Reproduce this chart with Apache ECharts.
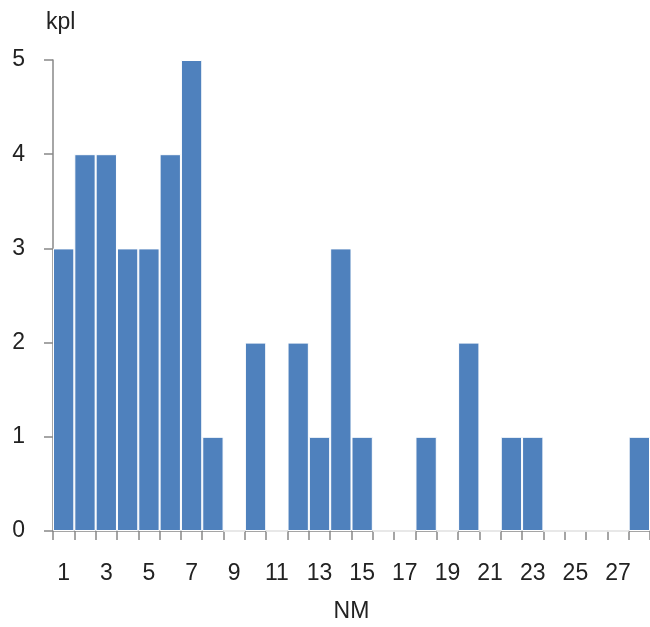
<!DOCTYPE html>
<html><head><meta charset="utf-8">
<script src="https://cdn.jsdelivr.net/npm/echarts@6/dist/echarts.min.js"></script>
<style>html,body{margin:0;padding:0;background:#fff}#c{width:650px;height:627px}</style>
</head><body><div id="c"></div>
<script>
const categories = ['1','2','3','4','5','6','7','8','9','10','11','12','13','14','15','16','17','18','19','20','21','22','23','24','25','26','27','28'];
const values = [3,4,4,3,3,4,5,1,0,2,0,2,1,3,1,0,0,1,0,2,0,1,1,0,0,0,0,1];
const yTicks = [0,1,2,3,4,5];
const font = 'Liberation Sans';
const chart = echarts.init(document.getElementById('c'), null, {renderer:'canvas'});
chart.setOption({
  animation:false,
  grid:{left:53,right:0,top:60,bottom:96,outerBoundsMode:'none',containLabel:false},
  xAxis:{
    type:'category', data:categories,
    name:'NM', nameLocation:'middle', nameGap:69,
    nameTextStyle:{fontFamily:font,fontSize:23,color:'#222'},
    axisLine:{lineStyle:{color:'#888',width:1.5}},
    axisTick:{show:true,interval:0,length:9,lineStyle:{color:'#888',width:1.5}},
    axisLabel:{interval:1,margin:31,fontFamily:font,fontSize:23,color:'#222'}
  },
  yAxis:{
    type:'value', min:yTicks[0], max:yTicks[yTicks.length-1], interval:1,
    name:'kpl', nameLocation:'end', nameGap:26,
    nameTextStyle:{fontFamily:font,fontSize:23,color:'#222',align:'left',verticalAlign:'bottom',padding:[0,0,0,-7]},
    axisLine:{show:true,lineStyle:{color:'#888',width:1.5}},
    axisTick:{show:true,length:9,lineStyle:{color:'#888',width:1.5}},
    splitLine:{show:false},
    axisLabel:{margin:28,fontFamily:font,fontSize:23,color:'#222'}
  },
  series:[{
    type:'bar', data:values, barCategoryGap:0,
    itemStyle:{color:'#4F81BD',borderColor:'#fff',borderWidth:1}
  }]
});
</script></body></html>
